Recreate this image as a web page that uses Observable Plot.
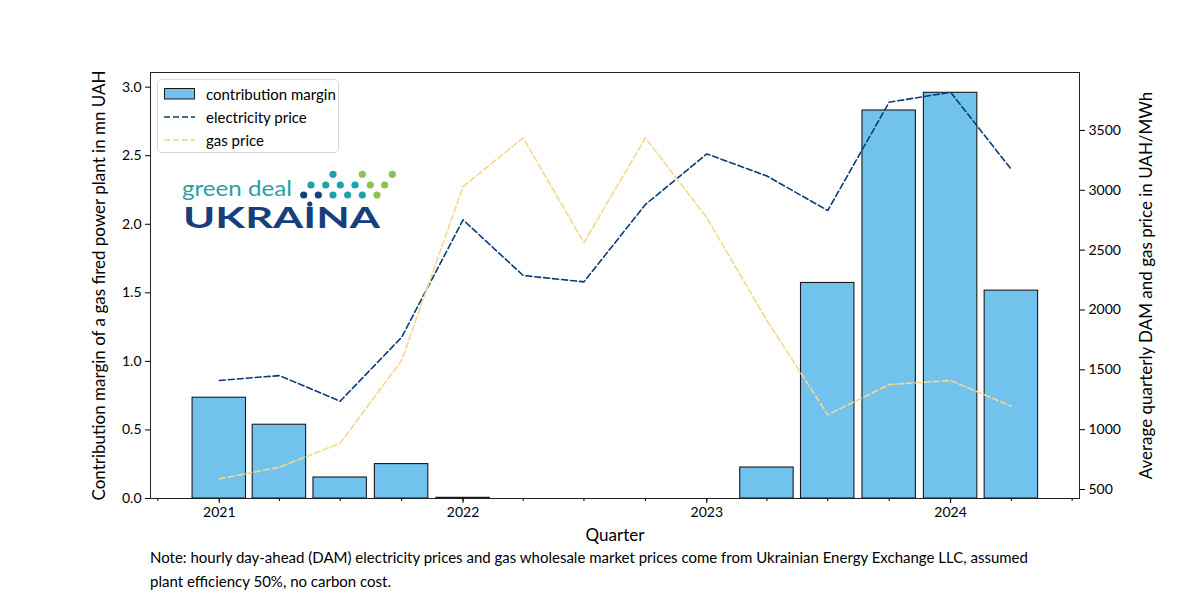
<!DOCTYPE html>
<html><head><meta charset="utf-8">
<script src="https://cdn.jsdelivr.net/npm/d3@7"></script>
<script src="https://cdn.jsdelivr.net/npm/@observablehq/plot@0.6"></script>
<style>
body{margin:0;background:#fff;font-family:Lato, "Open Sans", sans-serif;}
#wrap{position:relative;width:1200px;height:600px;overflow:hidden;}
#chart svg{display:block;}
g[aria-label="y-axis label"] text, g[aria-label="x-axis label"] text{font-size:17px;}
#note{padding-left:150px;font-size:15px;line-height:24px;color:#000;}
#legend{position:absolute;left:157px;top:79px;width:180px;height:72px;border:1px solid #d8d8d8;border-radius:4px;background:rgba(255,255,255,0.85);}
#legend .row{position:absolute;left:6px;height:16px;display:flex;align-items:center;font-size:15px;}
#legend .row svg{margin-right:11px;}
#logo{position:absolute;left:0;top:0;}
#logo .gd{position:absolute;left:182px;top:177px;font-size:22px;line-height:22px;color:#2b9fa5;transform-origin:0 0;white-space:nowrap;}
#logo .uk{position:absolute;left:183px;top:203px;font-size:28px;line-height:28px;font-weight:700;color:#173f7c;transform-origin:0 0;white-space:nowrap;}
#dots{position:absolute;left:0;top:0;}
</style></head><body>
<div id="wrap">
  <div id="chart"></div>
  <div id="note">Note: hourly day-ahead (DAM) electricity prices and gas wholesale market prices come from Ukrainian Energy Exchange LLC, assumed<br>plant efficiency 50%, no carbon cost.</div>
  <div id="logo"><span class="gd">green deal</span><span class="uk">UKRA<span id="ukI">I</span>NA</span></div>
  <svg id="dots" width="420" height="240"></svg>
  <div id="legend"></div>
</div>
<script>
// ---- data ----
const quarters = ["2021-01-01","2021-04-01","2021-07-01","2021-10-01","2022-01-01","2022-04-01","2022-07-01","2022-10-01","2023-01-01","2023-04-01","2023-07-01","2023-10-01","2024-01-01","2024-04-01"];
const contributionMargin = [0.735,0.538,0.153,0.251,0.005,0,0,0,0,0.226,1.572,2.830,2.959,1.516];
const electricityPrice = [1411,1452,1238,1772,2753,2288,2235,2881,3304,3119,2831,3736,3819,3174];
const gasPrice = [589,686,887,1578,3031,3438,2561,3438,2770,1912,1124,1377,1411,1196];
const leftTicks = [0,0.5,1.0,1.5,2.0,2.5,3.0];
const rightTicks = [500,1000,1500,2000,2500,3000,3500];
const yearTicks = ["2021-01-01","2022-01-01","2023-01-01","2024-01-01"];
const quarterTicks = ["2020-10-01",...quarters,"2024-07-01"];
const seriesNames = ["contribution margin","electricity price","gas price"];

const C = {bar:"#71C2ED", edge:"#1a1a1a", elec:"#0b3c76", gas:"#f5d88c"};

const parse = d3.utcParse("%Y-%m-%d");
const rows = quarters.map((q,i)=>({date:parse(q), margin:contributionMargin[i], elec:electricityPrice[i], gas:gasPrice[i]}));
const leftTop = 3.107;
const rightDomain = [425, 3984];
const toLeft = v => (v - rightDomain[0])/(rightDomain[1]-rightDomain[0])*leftTop;
const fromLeft = l => rightDomain[0] + l/leftTop*(rightDomain[1]-rightDomain[0]);

const chart = Plot.plot({
  width:1200, height:545,
  marginLeft:150, marginRight:121, marginTop:72, marginBottom:47,
  style:{fontFamily:"Lato, sans-serif", fontSize:"14px", color:"#000", background:"transparent", overflow:"visible"},
  x:{type:"utc", domain:[parse("2020-09-20"), parse("2024-07-12")]},
  y:{domain:[0, leftTop]},
  marks:[
    Plot.rect(rows, {x1:d=>d3.utcDay.offset(d.date,-40), x2:d=>d3.utcDay.offset(d.date,40), y1:0, y2:"margin", fill:C.bar, stroke:C.edge, strokeWidth:1.1}),
    Plot.lineY(rows, {x:"date", y:d=>toLeft(d.elec), stroke:C.elec, strokeWidth:1.6, strokeDasharray:"6,3"}),
    Plot.lineY(rows, {x:"date", y:d=>toLeft(d.gas), stroke:C.gas, strokeWidth:1.6, strokeDasharray:"6,3"}),
    Plot.frame({stroke:"#222", strokeWidth:1}),
    Plot.axisY(leftTicks, {anchor:"left", tickSize:5, tickPadding:4, fontSize:14, tickFormat:d=>d.toFixed(1),
      label:"Contribution margin of a gas fired power plant in mn UAH", labelAnchor:"center", labelArrow:"none", labelOffset:58}),
    Plot.axisY(rightTicks.map(toLeft), {anchor:"right", tickSize:5, tickPadding:4, fontSize:14, tickFormat:d=>String(Math.round(fromLeft(d))),
      label:"Average quarterly DAM and gas price in UAH/MWh", labelAnchor:"center", labelArrow:"none", labelOffset:72}),
    Plot.axisX(quarterTicks.map(parse), {anchor:"bottom", tickSize:3, tickFormat:()=>"", label:null}),
    Plot.axisX(yearTicks.map(parse), {anchor:"bottom", tickSize:5, tickPadding:4, fontSize:14, tickFormat:d3.utcFormat("%Y"),
      label:"Quarter", labelAnchor:"center", labelArrow:"none", labelOffset:42})
  ]
});
document.getElementById("chart").appendChild(chart);

// legend
const legend = document.getElementById("legend");
const swatches = [
  `<svg width="31" height="12"><rect x="0.5" y="0.5" width="30" height="10.5" fill="${C.bar}" stroke="${C.edge}"/></svg>`,
  `<svg width="31" height="12"><line x1="0" x2="31" y1="6" y2="6" stroke="${C.elec}" stroke-width="1.6" stroke-dasharray="6,3"/></svg>`,
  `<svg width="31" height="12"><line x1="0" x2="31" y1="6" y2="6" stroke="${C.gas}" stroke-width="1.6" stroke-dasharray="6,3"/></svg>`
];
seriesNames.forEach((n,i)=>{
  const r = document.createElement("div");
  r.className="row"; r.style.top = (6 + 23*i) + "px";
  r.innerHTML = swatches[i] + `<span>${n}</span>`;
  legend.appendChild(r);
});

// logo decoration
const gd = document.querySelector("#logo .gd"), uk = document.querySelector("#logo .uk");
gd.style.transform = `scaleX(${110/gd.getBoundingClientRect().width})`;
uk.style.transform = `scaleX(${197/uk.getBoundingClientRect().width})`;
const dotRows = [
  {y:174.3, xs:[333,362.3,392.3], cs:["t","g","g"]},
  {y:185, xs:[311,325.7,340.3,355,370.3,384.7], cs:["t","t","t","t","g","g"]},
  {y:195, xs:[303.7,318.3,333,347.7,362.3,377], cs:["n","n","t","t","t","g"]}
];
const dc = {t:"#1ba3aa", g:"#8cc24f", n:"#173f7c"};
const dots = d3.select("#dots");
dotRows.forEach(r=>r.xs.forEach((x,i)=>dots.append("circle").attr("cx",x).attr("cy",r.y).attr("r",3.6).attr("fill",dc[r.cs[i]])));
const iRect = document.getElementById("ukI").getBoundingClientRect();
dots.append("circle").attr("cx", iRect.left + iRect.width/2).attr("cy", 204).attr("r", 2.6).attr("fill", dc.n);
</script>
</body></html>
